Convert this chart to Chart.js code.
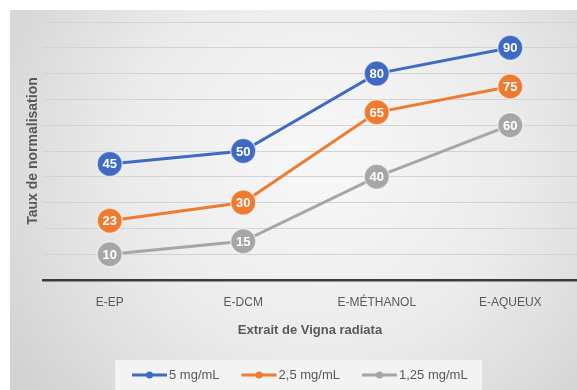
<!DOCTYPE html>
<html>
<head>
<meta charset="utf-8">
<script src="https://cdn.jsdelivr.net/npm/chart.js@4/dist/chart.umd.min.js"></script>
<style>
  html, body { margin: 0; padding: 0; background: #ffffff; }
  #wrap { width: 577px; height: 390px; }
</style>
</head>
<body>
<div id="wrap"><canvas id="c" width="577" height="390"></canvas></div>
<script>
// Extraits testés et taux mesurés pour chaque concentration
const extraits = ['E-EP', 'E-DCM', 'E-MÉTHANOL', 'E-AQUEUX'];
const conc5 = [45, 50, 80, 90];
const conc25 = [23, 30, 65, 75];
const conc125 = [10, 15, 40, 60];
const seriesNames = ['5 mg/mL', '2,5 mg/mL', '1,25 mg/mL'];
const yTicks = [0, 10, 20, 30, 40, 50, 60, 70, 80, 90, 100];

const COLORS = ['#3F6AC4', '#EE7B2F', '#A6A6A6'];
const TEXT = '#595959';
const FONT = "'Liberation Sans', Arial, sans-serif";

// Fond dégradé gris derrière tout le graphique
const backdrop = {
  id: 'backdrop',
  beforeDraw(chart) {
    const { ctx, width, height } = chart;
    ctx.save();
    ctx.fillStyle = '#ffffff';
    ctx.fillRect(0, 0, width, height);
    const g = ctx.createRadialGradient(320, 160, 20, 320, 160, 370);
    g.addColorStop(0, '#f7f7f7');
    g.addColorStop(0.5, '#ebebeb');
    g.addColorStop(1, '#d2d2d2');
    ctx.fillStyle = g;
    ctx.fillRect(10, 10, width - 10, height - 10);
    ctx.restore();
  }
};

// Valeurs écrites au centre de chaque marqueur
const pointValues = {
  id: 'pointValues',
  afterDatasetsDraw(chart) {
    const { ctx } = chart;
    ctx.save();
    ctx.font = "bold 13px " + FONT;
    ctx.fillStyle = '#ffffff';
    ctx.textAlign = 'center';
    ctx.textBaseline = 'middle';
    chart.data.datasets.forEach((ds, i) => {
      const meta = chart.getDatasetMeta(i);
      meta.data.forEach((pt, j) => {
        ctx.fillText(String(ds.data[j]), pt.x, pt.y + 1);
      });
    });
    ctx.restore();
  }
};

// Légende en bas : trait + marqueur, puis le libellé
const lineLegend = {
  id: 'lineLegend',
  afterDraw(chart) {
    const { ctx } = chart;
    ctx.save();
    ctx.fillStyle = '#f3f3f3';
    ctx.fillRect(115, 360, 367, 30);
    ctx.font = "13px " + FONT;
    ctx.textBaseline = 'middle';
    ctx.textAlign = 'left';
    let x = 132;
    const y = 375;
    chart.data.datasets.forEach((ds) => {
      ctx.strokeStyle = ds.borderColor;
      ctx.lineWidth = 3;
      ctx.beginPath();
      ctx.moveTo(x, y);
      ctx.lineTo(x + 35, y);
      ctx.stroke();
      ctx.fillStyle = ds.borderColor;
      ctx.beginPath();
      ctx.arc(x + 17.5, y, 3.5, 0, Math.PI * 2);
      ctx.fill();
      ctx.fillStyle = TEXT;
      ctx.fillText(ds.label, x + 37, y);
      x += 37 + ctx.measureText(ds.label).width + 22;
    });
    ctx.restore();
  }
};

function makeSeries(label, values, color) {
  return {
    label,
    data: values,
    borderColor: color,
    backgroundColor: color,
    borderWidth: 3,
    tension: 0,
    pointRadius: 12.5,
    pointHoverRadius: 12.5,
    pointBackgroundColor: color,
    pointBorderColor: 'rgba(255,255,255,0.55)',
    pointBorderWidth: 1.5,
    clip: false
  };
}

new Chart(document.getElementById('c'), {
  type: 'line',
  data: {
    labels: extraits,
    datasets: [
      makeSeries(seriesNames[0], conc5, COLORS[0]),
      makeSeries(seriesNames[1], conc25, COLORS[1]),
      makeSeries(seriesNames[2], conc125, COLORS[2])
    ]
  },
  options: {
    responsive: false,
    animation: false,
    devicePixelRatio: 1,
    layout: { autoPadding: false, padding: { top: 22, right: 0, bottom: 50, left: 0 } },
    plugins: {
      legend: { display: false },
      tooltip: { enabled: false }
    },
    scales: {
      x: {
        type: 'category',
        offset: true,
        grid: { display: false, drawTicks: false },
        border: { display: true, color: '#3b3b3b', width: 2.5 },
        ticks: {
          color: TEXT,
          font: { family: FONT, size: 12 },
          padding: 15,
          maxRotation: 0
        },
        title: {
          display: true,
          text: 'Extrait de Vigna radiata',
          color: TEXT,
          font: { family: FONT, size: 13, weight: 'bold' },
          padding: { top: 0, bottom: 2 }
        },
        afterFit(scale) {
          scale.height = 60;
          scale.paddingLeft = 0;
          scale.paddingRight = 0;
        }
      },
      y: {
        min: yTicks[0],
        max: yTicks[yTicks.length - 1],
        afterBuildTicks(scale) { scale.ticks = yTicks.map(v => ({ value: v })); },
        ticks: { display: false },
        grid: { color: '#d2d2d2', lineWidth: 1, drawTicks: false },
        border: { display: false },
        title: {
          display: true,
          text: 'Taux de normalisation',
          color: TEXT,
          font: { family: FONT, size: 14, weight: 'bold' },
          padding: { top: 25, bottom: 0 }
        },
        afterFit(scale) {
          scale.width = 43;
          scale.paddingTop = 0;
          scale.paddingBottom = 0;
        }
      }
    }
  },
  plugins: [backdrop, pointValues, lineLegend]
});
</script>
</body>
</html>
